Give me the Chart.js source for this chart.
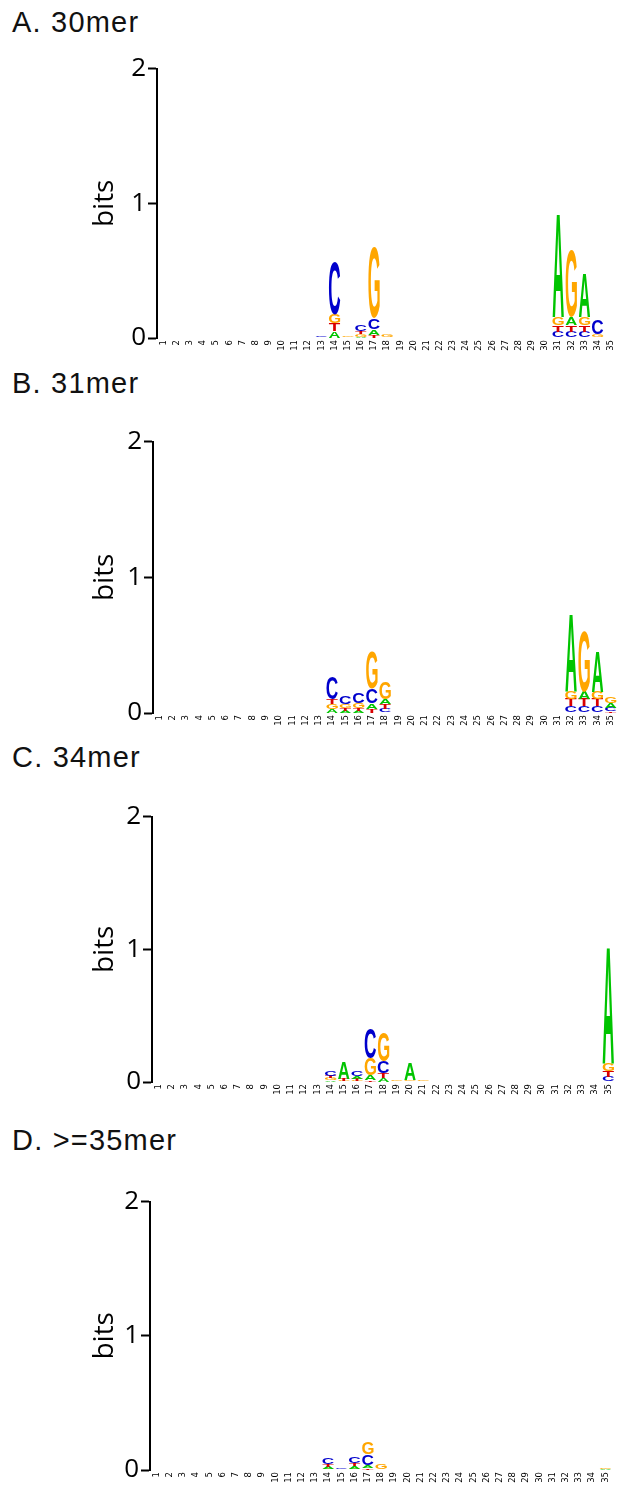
<!DOCTYPE html>
<html>
<head>
<meta charset="utf-8">
<script src="https://cdn.jsdelivr.net/npm/chart.js@4.4.0/dist/chart.umd.min.js"></script>
<style>
  body { margin: 0; background: #fff; width: 623px; height: 1486px; position: relative; overflow: hidden; }
  .ttl { position: absolute; left: 12px; font-family: "Liberation Sans", Arial, sans-serif; font-size: 29px; letter-spacing: 1.2px; color: #111; line-height: 1; }
  .pnl { position: absolute; left: 0; }
</style>
</head>
<body>

<script>
// positions along the sequence (x tick labels)
const positions = ['1','2','3','4','5','6','7','8','9','10','11','12','13','14','15','16','17','18',
  '19','20','21','22','23','24','25','26','27','28','29','30','31','32','33','34','35'];
const bitTicks = [0, 1, 2];

// information (bits) for each base at each position, read off the logos
//                  1 2 3 4 5 6 7 8 9 10 11 12 13    14    15    16    17    18    19 20 21 22 23 24 25 26 27 28 29 30 31    32    33    34    35
// A. 30mer
const mer30_A = [0,0,0,0,0,0,0,0,0,0,0,0,0,     0.05, 0,    0.01, 0.04, 0.005,0,0,0,0,0,0,0,0,0,0,0,0, 0.77, 0.06, 0.33, 0,    0];
const mer30_C = [0,0,0,0,0,0,0,0,0,0,0,0,0.012, 0.39, 0,    0.045,0.08, 0,    0,0,0,0,0,0,0,0,0,0,0,0, 0.048,0.048,0.048,0.11, 0];
const mer30_G = [0,0,0,0,0,0,0,0,0,0,0,0,0,     0.065,0.012,0.018,0.53, 0.02, 0,0,0,0,0,0,0,0,0,0,0,0, 0.06, 0.50, 0.06, 0.025,0];
const mer30_T = [0,0,0,0,0,0,0,0,0,0,0,0,0,     0.06, 0,    0.02, 0.025,0,    0,0,0,0,0,0,0,0,0,0,0,0, 0.05, 0.05, 0.05, 0,    0];
// B. 31mer
const mer31_A = [0,0,0,0,0,0,0,0,0,0,0,0,0,     0.03, 0.018,0.018,0.04, 0.038,0,0,0,0,0,0,0,0,0,0,0,0, 0,    0.57, 0.055,0.30, 0.035];
const mer31_C = [0,0,0,0,0,0,0,0,0,0,0,0,0,     0.16, 0.06, 0.08, 0.11, 0.03, 0,0,0,0,0,0,0,0,0,0,0,0, 0,    0.05, 0.05, 0.05, 0.025];
const mer31_G = [0,0,0,0,0,0,0,0,0,0,0,0,0,     0.035,0.03, 0.035,0.27, 0.13, 0,0,0,0,0,0,0,0,0,0,0,0, 0,    0.055,0.45, 0.055,0.05];
const mer31_T = [0,0,0,0,0,0,0,0,0,0,0,0,0,     0.038,0.02, 0.02, 0.03, 0.035,0,0,0,0,0,0,0,0,0,0,0,0, 0,    0.052,0.052,0.052,0.015];
// C. 34mer
const mer34_A = [0,0,0,0,0,0,0,0,0,0,0,0,0,     0.012,0.13, 0.02, 0.035,0.03, 0,   0.13, 0,   0,0,0,0,0,0,0,0,0,0,0,0,0, 0.88];
const mer34_C = [0,0,0,0,0,0,0,0,0,0,0,0,0,     0.04, 0,    0.04, 0.23, 0.09, 0,   0,    0,   0,0,0,0,0,0,0,0,0,0,0,0,0, 0.04];
const mer34_G = [0,0,0,0,0,0,0,0,0,0,0,0,0,     0.015,0.01, 0.01, 0.13, 0.22, 0.01,0.015,0.01,0,0,0,0,0,0,0,0,0,0,0,0,0, 0.06];
const mer34_T = [0,0,0,0,0,0,0,0,0,0,0,0,0,     0.02, 0.015,0.015,0.015,0.035,0,   0,    0,   0,0,0,0,0,0,0,0,0,0,0,0,0, 0.045];
// D. >=35mer
const mer35_A = [0,0,0,0,0,0,0,0,0,0,0,0,0,     0.015,0,    0.02, 0.02, 0,    0,0,0,0,0,0,0,0,0,0,0,0,0,0,0,0, 0.008];
const mer35_C = [0,0,0,0,0,0,0,0,0,0,0,0,0,     0.05, 0.015,0.05, 0.08, 0,    0,0,0,0,0,0,0,0,0,0,0,0,0,0,0,0, 0];
const mer35_G = [0,0,0,0,0,0,0,0,0,0,0,0,0,     0.01, 0,    0.01, 0.09, 0.04, 0,0,0,0,0,0,0,0,0,0,0,0,0,0,0,0, 0.008];
const mer35_T = [0,0,0,0,0,0,0,0,0,0,0,0,0,     0.02, 0,    0.022,0.015,0.005,0,0,0,0,0,0,0,0,0,0,0,0,0,0,0,0, 0];

const letterColor = { A: '#00c400', C: '#0000cc', G: '#ffa600', T: '#d90000' };
const GLYPH_FONT = 'bold 100px "Liberation Sans"';

// page placement of each panel: title top, y=2 line, y=0 line, axis x, right gap
const panels = [
  { title: 'A. 30mer',   tTop: 8,    top: 67,   bottom: 338,  axisX: 157, padR: 1,  cols: { A: mer30_A, C: mer30_C, G: mer30_G, T: mer30_T } },
  { title: 'B. 31mer',   tTop: 369,  top: 440,  bottom: 713,  axisX: 153, padR: 5,  cols: { A: mer31_A, C: mer31_C, G: mer31_G, T: mer31_T } },
  { title: 'C. 34mer',   tTop: 743,  top: 815,  bottom: 1082, axisX: 152, padR: 8,  cols: { A: mer34_A, C: mer34_C, G: mer34_G, T: mer34_T } },
  { title: 'D. >=35mer', tTop: 1126, top: 1200, bottom: 1470, axisX: 150, padR: 11, cols: { A: mer35_A, C: mer35_C, G: mer35_G, T: mer35_T } },
];

const PAD_TOP = 16, X_AXIS_H = 26, PAD_LEFT = 88;

// letters in a column are stacked smallest at the bottom, so build datasets by rank
function buildLayers(cols) {
  const layers = [0, 1, 2, 3].map(() => ({ data: [], letters: [] }));
  positions.forEach((p, i) => {
    const col = ['A', 'C', 'G', 'T'].map(L => ({ L, v: cols[L][i] })).sort((a, b) => a.v - b.v);
    col.forEach((c, k) => { layers[k].data.push(c.v); layers[k].letters.push(c.L); });
  });
  return layers.map(l => ({
    data: l.data,
    letters: l.letters,
    backgroundColor: 'rgba(0,0,0,0)',
    borderWidth: 0,
    barPercentage: 0.86,
    categoryPercentage: 1,
  }));
}

const metricsCache = {};
function glyphMetrics(ctx, L) {
  if (!metricsCache[L]) {
    ctx.save();
    ctx.font = GLYPH_FONT;
    const m = ctx.measureText(L);
    ctx.restore();
    metricsCache[L] = {
      left: m.actualBoundingBoxLeft, asc: m.actualBoundingBoxAscent,
      w: m.actualBoundingBoxLeft + m.actualBoundingBoxRight,
      h: m.actualBoundingBoxAscent + m.actualBoundingBoxDescent,
    };
  }
  return metricsCache[L];
}

// draws each stacked bar as a stretched letter
const logoLetters = {
  id: 'logoLetters',
  afterDatasetsDraw(chart) {
    const ctx = chart.ctx;
    chart.data.datasets.forEach((ds, di) => {
      chart.getDatasetMeta(di).data.forEach((bar, i) => {
        const L = ds.letters[i];
        const p = bar.getProps(['x', 'y', 'base', 'width'], true);
        const h = p.base - p.y;
        if (!(h > 0.15)) return;
        const m = glyphMetrics(ctx, L);
        ctx.save();
        ctx.translate(p.x - p.width / 2, p.y);
        ctx.scale(p.width / m.w, h / m.h);
        ctx.font = GLYPH_FONT;
        ctx.textAlign = 'left';
        ctx.textBaseline = 'alphabetic';
        ctx.fillStyle = letterColor[L];
        ctx.fillText(L, m.left, m.asc);
        ctx.restore();
      });
    });
  }
};

panels.forEach(pn => {
  const t = document.createElement('div');
  t.className = 'ttl';
  t.style.top = pn.tTop + 'px';
  t.textContent = pn.title;
  document.body.appendChild(t);

  const h = (pn.bottom - pn.top) + PAD_TOP + X_AXIS_H;
  const wrap = document.createElement('div');
  wrap.className = 'pnl';
  wrap.style.top = (pn.top - PAD_TOP) + 'px';
  wrap.style.width = '623px';
  wrap.style.height = h + 'px';
  const cv = document.createElement('canvas');
  wrap.appendChild(cv);
  document.body.appendChild(wrap);

  new Chart(cv.getContext('2d'), {
    type: 'bar',
    data: { labels: positions, datasets: buildLayers(pn.cols) },
    plugins: [logoLetters],
    options: {
      responsive: true,
      maintainAspectRatio: false,
      animation: false,
      layout: { padding: { top: PAD_TOP, left: PAD_LEFT, right: pn.padR, bottom: 0 } },
      plugins: { legend: { display: false }, tooltip: { enabled: false } },
      scales: {
        x: {
          stacked: true,
          afterFit(s) { s.height = X_AXIS_H; },
          border: { display: false },
          grid: { display: false, drawTicks: false },
          ticks: { autoSkip: false, minRotation: 90, maxRotation: 90, padding: 2, color: '#000',
                   font: { family: '"DejaVu Sans"', size: 8.5 } }
        },
        y: {
          stacked: true,
          min: 0, max: 2,
          afterFit(s) { s.width = pn.axisX - PAD_LEFT; },
          afterBuildTicks(s) { s.ticks = bitTicks.map(v => ({ value: v })); },
          border: { display: true, color: '#000', width: 2 },
          grid: { drawOnChartArea: false, drawTicks: true, tickLength: 9, tickWidth: 2, tickColor: '#000' },
          ticks: { padding: 2, color: '#000', font: { family: '"Open Sans"', size: 26 } },
          title: { display: true, text: 'bits', color: '#000', padding: 0,
                   font: { family: '"Open Sans"', size: 28 } }
        }
      }
    }
  });
});
</script>
</body>
</html>
